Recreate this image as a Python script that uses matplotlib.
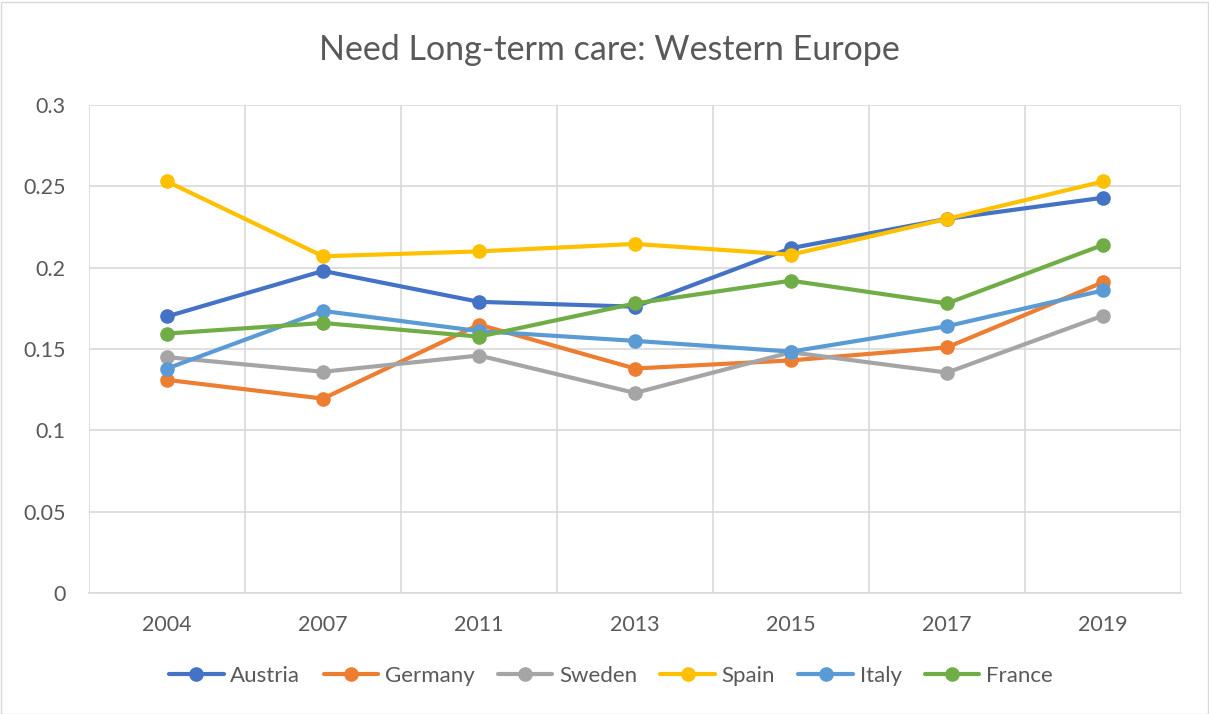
import matplotlib
matplotlib.use("Agg")
import matplotlib.pyplot as plt
from matplotlib.patches import Rectangle
import numpy as np

years = ["2004", "2007", "2011", "2013", "2015", "2017", "2019"]
austria = [0.170, 0.198, 0.179, 0.176, 0.212, 0.230, 0.243]
germany = [0.131, 0.1195, 0.165, 0.138, 0.143, 0.151, 0.191]
sweden = [0.145, 0.136, 0.146, 0.123, 0.148, 0.1355, 0.1705]
spain = [0.253, 0.207, 0.210, 0.2146, 0.208, 0.230, 0.253]
italy = [0.138, 0.1734, 0.161, 0.155, 0.1484, 0.164, 0.186]
france = [0.1595, 0.166, 0.1576, 0.178, 0.192, 0.178, 0.214]

series = [("Austria", austria, "#4472C4"),
          ("Germany", germany, "#ED7D31"),
          ("Sweden", sweden, "#A5A5A5"),
          ("Spain", spain, "#FFC000"),
          ("Italy", italy, "#5B9BD5"),
          ("France", france, "#70AD47")]

plt.rcParams['font.family'] = ['Lato', 'DejaVu Sans']
W, H = 1209, 714
fig = plt.figure(figsize=(W/100, H/100), dpi=100)
ax = fig.add_axes([89/W, 1-593/H, (1181-89)/W, (593-105)/H])

x = np.arange(len(years))
for name, vals, col in series:
    ax.plot(x, vals, color=col, lw=3.0, marker='o', markersize=9.5, label=name,
            solid_capstyle='round')

ax.set_xlim(-0.5, len(years)-0.5)
ax.set_ylim(0, 0.3)
ax.set_yticks([0, 0.05, 0.1, 0.15, 0.2, 0.25, 0.3])
ax.set_yticklabels(["0", "0.05", "0.1", "0.15", "0.2", "0.25", "0.3"])
ax.set_xticks(x)
ax.set_xticklabels(years)
ax.set_xticks(np.arange(-0.5, len(years), 1), minor=True)
ax.grid(True, which='major', axis='y', color='#D9D9D9', lw=1.2)
ax.grid(True, which='minor', axis='x', color='#D9D9D9', lw=1.2)
ax.set_axisbelow(True)
ax.tick_params(axis='both', which='both', length=0, labelsize=15.5, colors='#595959')
ax.tick_params(axis='y', pad=17)
ax.tick_params(axis='x', pad=16)
for s in ['top', 'right', 'left']:
    ax.spines[s].set_visible(False)
ax.spines['bottom'].set_color('#D9D9D9')
ax.spines['bottom'].set_linewidth(1.2)

fig.text(609/W, 1-50/H, "Need Long-term care: Western Europe", ha='center', va='center',
         fontsize=24.5, color='#595959')

leg = fig.legend(loc='center', bbox_to_anchor=(611/W, 1-676/H), ncol=6, frameon=False,
                 fontsize=16, handlelength=2.45, columnspacing=1.05, handletextpad=0.3)
for t in leg.get_texts():
    t.set_color('#595959')

fig.patches.append(Rectangle((0.5/W, 0.5/H), 1-2/W, 1-2/H, transform=fig.transFigure,
                             fill=False, edgecolor='#D9D9D9', lw=1))

fig.savefig("out.png", dpi=100)
